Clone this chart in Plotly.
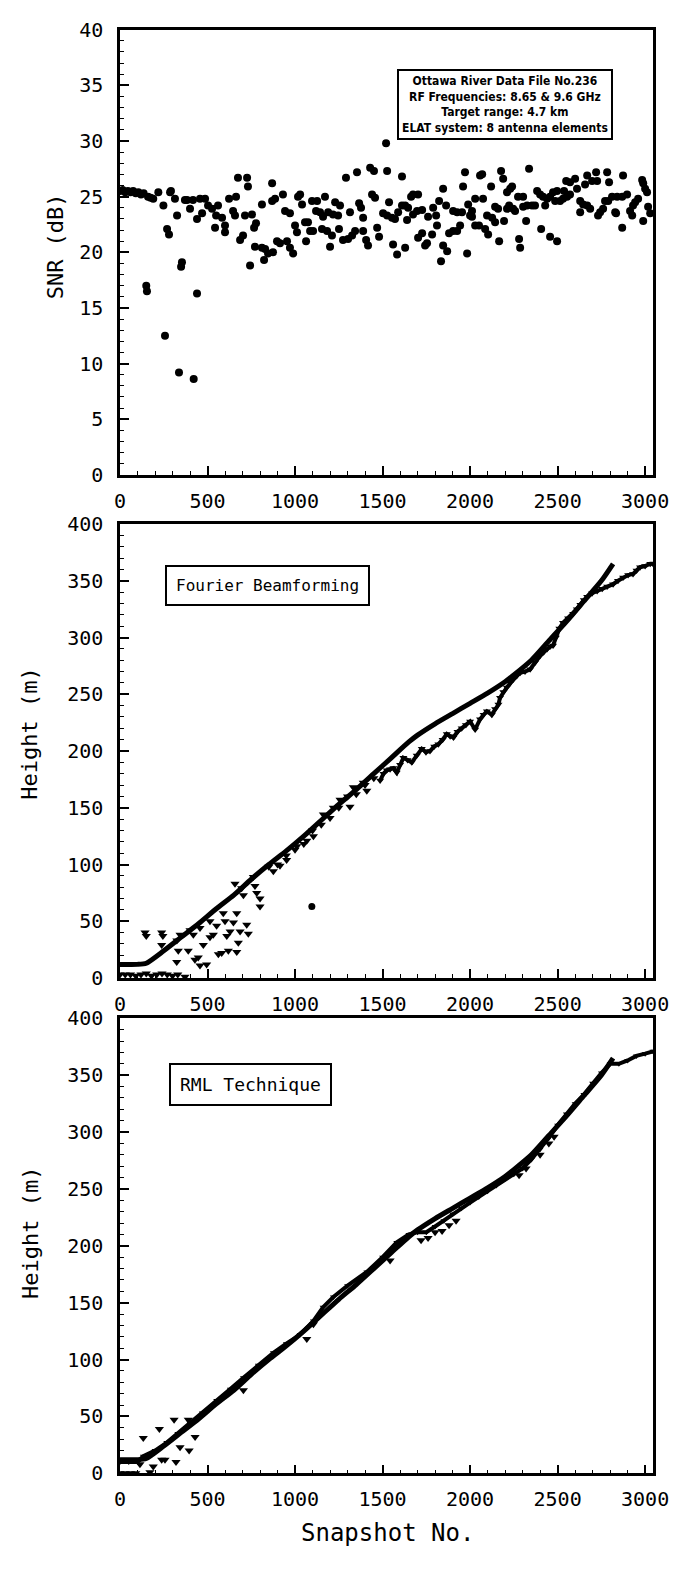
import plotly.graph_objects as go

# ---------------- data ----------------
snr_snap = [0,15,30,45,60,75,90,105,120,135,150,154,160,175,190,219,248,257,269,280,286,291,314,326,337,349,354,371,383,400,417,421,440,440,457,469,486,503,526,543,549,560,583,600,600,623,646,657,663,674,686,703,714,726,731,743,754,766,771,777,811,811,823,829,846,869,869,874,886,897,914,931,943,954,971,971,989,1000,1011,1017,1029,1040,1057,1063,1074,1086,1097,1103,1120,1126,1143,1154,1160,1171,1183,1189,1200,1211,1217,1229,1246,1251,1257,1274,1291,1303,1314,1326,1343,1354,1366,1377,1389,1389,1406,1417,1429,1440,1451,1457,1469,1480,1503,1520,1526,1526,1537,1554,1560,1571,1583,1589,1611,1611,1629,1629,1640,1646,1663,1674,1674,1697,1703,1703,1726,1726,1743,1754,1760,1783,1789,1806,1811,1823,1834,1846,1846,1863,1869,1880,1903,1903,1926,1926,1943,1954,1960,1971,1983,1989,2000,2011,2011,2029,2029,2051,2057,2069,2074,2086,2097,2103,2120,2126,2143,2143,2160,2166,2177,2189,2194,2211,2211,2223,2229,2240,2246,2257,2274,2280,2286,2303,2303,2320,2326,2337,2354,2371,2383,2400,2406,2417,2429,2440,2457,2457,2474,2486,2497,2497,2514,2531,2537,2549,2554,2571,2571,2600,2611,2629,2629,2646,2657,2669,2669,2686,2697,2720,2726,2731,2743,2760,2771,2783,2789,2794,2811,2829,2834,2840,2869,2869,2874,2897,2914,2926,2931,2943,2960,2983,2989,2989,3000,3011,3017,3029]
snr_db = [25.5,25.6,25.4,25.5,25.4,25.5,25.3,25.4,25.2,25.3,17.0,16.5,25.0,24.9,24.8,25.4,24.2,12.5,22.1,21.6,25.4,25.5,24.8,23.3,9.2,18.7,19.1,24.7,24.7,23.9,24.7,8.6,23.0,16.3,24.8,23.5,24.8,24.2,23.9,22.2,23.3,24.2,23.1,22.4,21.8,24.8,23.7,23.3,25.0,26.7,21.1,21.5,23.3,26.7,25.9,18.8,23.4,22.2,20.5,22.6,24.3,20.4,19.3,20.3,19.9,26.2,24.6,20.0,24.8,21.0,20.8,25.2,23.7,21.0,23.5,20.4,19.9,22.4,21.8,25.0,25.2,24.3,22.7,21.0,22.7,21.9,24.6,21.9,23.7,24.6,23.6,22.1,23.2,25.0,21.9,23.6,20.5,21.5,23.4,24.5,23.3,22.1,24.2,21.1,26.7,21.2,23.6,21.5,21.9,27.2,24.4,24.0,23.1,21.9,21.1,20.6,27.6,25.2,27.3,24.9,22.2,21.4,23.5,29.8,27.3,23.3,24.5,23.1,20.7,23.0,19.8,23.6,24.2,26.8,24.2,20.4,22.9,24.0,25.0,25.2,23.4,23.7,25.2,21.3,23.8,21.7,20.6,20.8,23.2,21.6,24.0,23.3,22.4,24.6,19.2,25.7,20.6,24.2,20.1,21.7,21.9,23.7,21.9,23.6,22.4,23.6,25.9,27.2,19.9,24.3,23.3,23.7,23.2,24.8,22.4,22.4,26.9,27.0,24.8,22.1,23.3,21.6,25.9,23.1,22.7,24.1,23.9,21.0,27.3,26.6,22.8,25.4,23.9,24.2,25.7,25.9,23.9,23.7,25.0,21.2,20.4,25.0,24.1,22.8,24.2,27.5,24.2,24.2,25.5,25.2,22.1,25.0,24.2,24.8,25.0,21.4,25.4,24.6,25.5,21.0,24.6,24.8,25.5,26.4,25.0,25.2,26.3,26.6,25.7,24.6,23.6,24.3,26.1,26.9,24.2,23.9,26.4,27.2,26.4,23.3,23.6,23.9,24.6,27.2,24.6,26.3,25.0,23.6,23.5,25.0,25.0,22.2,26.9,25.2,23.7,23.3,24.2,24.5,24.8,26.5,26.2,22.8,25.7,25.4,24.1,23.5]

true_snap = [0,100,150,250,350,450,550,650,750,850,950,1050,1150,1250,1350,1450,1550,1650,1700,1800,1900,2000,2100,2200,2250,2350,2450,2550,2650,2750,2817]
true_h = [12,12,13,24,36,48,61,73,87,100,112,125,139,153,166,180,194,208,214,224,233,242,251,261,267,280,297,314,332,350,365]

fb_scat_snap = [0,30,60,90,120,150,180,210,240,270,300,330,371,143,150,238,245,343,325,238,333,324,390,400,419,447,457,476,495,457,428,514,514,533,552,562,581,590,600,610,629,619,648,667,676,667,686,724,733,657,695,705,762,781,800,800,771,850,876,900,914,950,952,1000,1010,1050,1067,1100,1105,1150,1162,1200,1219,1250,1257,1300,1314,1333,1350,1390,1400,1410,1450]
fb_scat_h = [3,3,3,2,3,4,2,3,4,3,2,3,1,40,37,40,37,38,33,29,24,14,24,42,38,18,44,29,12,11,16,50,36,38,46,21,22,57,50,37,41,24,49,57,31,23,41,47,39,83,79,73,89,75,70,63,81,98,94,100,99,108,104,113,116,118,121,130,125,135,144,141,150,150,157,160,151,168,162,172,170,165,176]
fb_out_snap = [1096]
fb_out_h = [63]

fb_trk_snap = [1486,1505,1524,1543,1562,1581,1600,1619,1643,1667,1695,1724,1748,1771,1795,1819,1843,1867,1886,1905,1928,1952,1976,2000,2029,2057,2077,2096,2124,2143,2162,2171,2190,2210,2230,2246,2266,2286,2314,2343,2371,2400,2420,2440,2457,2474,2490,2510,2531,2560,2589,2610,2630,2650,2669,2697,2726,2755,2783,2817,2845,2874,2903,2931,2951,2971,3000,3029,3045]
fb_trk_h = [174,180,183,184,185,181,188,194,192,190,196,202,199,200,204,206,210,215,213,212,217,220,223,226,219,228,232,235,232,237,241,247,252,256,260,263,266,269,270,272,278,284,287,290,292,293,300,308,313,317,321,325,329,333,336,339,341,343,345,347,350,353,355,356,359,362,363,365,365]

rml_scat_snap = [0,30,60,90,114,133,171,190,225,238,257,309,320,343,390,395,429,705,1067,1105,1543,1720,1760,1800,1840,1880,1920,2280,2320,2400,2450,2480]
rml_scat_h = [0,0,0,0,8,31,1,6,39,12,12,47,10,23,47,20,32,73,118,131,187,205,207,212,213,218,222,262,268,280,290,296]

rml_trk_snap = [0,50,100,133,200,267,330,400,470,552,630,705,790,876,950,1029,1105,1160,1219,1300,1410,1500,1581,1650,1700,1750,1800,1850,1900,1950,2000,2050,2100,2150,2200,2250,2300,2350,2400,2450,2500,2550,2600,2650,2700,2750,2800,2850,2900,2950,3000,3045]
rml_trk_h = [10,10,10,15,20,27,35,44,53,64,74,84,95,106,114,122,134,146,155,165,177,190,203,210,212,212,217,222,228,233,238,243,248,253,259,263,268,276,285,295,306,316,325,333,343,352,360,360,363,367,369,371]

x_ticks = [0, 500, 1000, 1500, 2000, 2500, 3000]

# ---------------- figure ----------------
W, H = 676, 1569
L, R = 120, 23
def ydom(top_px, bot_px):
    return [1 - bot_px / H, 1 - top_px / H]

FONT = "DejaVu Sans Mono, Liberation Mono, monospace"
fig = go.Figure()

fig.add_trace(go.Scatter(x=snr_snap, y=snr_db, mode="markers", xaxis="x", yaxis="y",
                         marker=dict(symbol="circle", size=8, color="black"), showlegend=False))

# middle panel
fig.add_trace(go.Scatter(x=true_snap, y=true_h, mode="lines", xaxis="x2", yaxis="y2",
                         line=dict(color="black", width=5, shape="spline", smoothing=0.6), showlegend=False))
fig.add_trace(go.Scatter(x=fb_scat_snap, y=fb_scat_h, mode="markers", xaxis="x2", yaxis="y2",
                         marker=dict(symbol="triangle-down", size=8, color="black"), showlegend=False))
fig.add_trace(go.Scatter(x=fb_out_snap, y=fb_out_h, mode="markers", xaxis="x2", yaxis="y2",
                         marker=dict(symbol="circle", size=7, color="black"), showlegend=False))
fig.add_trace(go.Scatter(x=fb_trk_snap, y=fb_trk_h, mode="lines+markers", xaxis="x2", yaxis="y2",
                         line=dict(color="black", width=4),
                         marker=dict(symbol="triangle-down", size=7, color="black"), showlegend=False))

# bottom panel
fig.add_trace(go.Scatter(x=true_snap, y=true_h, mode="lines", xaxis="x3", yaxis="y3",
                         line=dict(color="black", width=5, shape="spline", smoothing=0.6), showlegend=False))
fig.add_trace(go.Scatter(x=rml_trk_snap, y=rml_trk_h, mode="lines+markers", xaxis="x3", yaxis="y3",
                         line=dict(color="black", width=4),
                         marker=dict(symbol="triangle-down", size=6, color="black"), showlegend=False))
fig.add_trace(go.Scatter(x=rml_scat_snap, y=rml_scat_h, mode="markers", xaxis="x3", yaxis="y3",
                         marker=dict(symbol="triangle-down", size=8, color="black"), showlegend=False))

def xax(anchor):
    return dict(domain=[0, 1], anchor=anchor, range=[0, 3045], tickvals=x_ticks,
                ticks="inside", ticklen=9, tickwidth=2, tickcolor="black",
                minor=dict(ticks="inside", ticklen=4, tickwidth=1, dtick=100, tickcolor="black"),
                showline=True, linewidth=2.5, linecolor="black", mirror=True,
                showgrid=False, zeroline=False,
                tickfont=dict(family=FONT, size=20, color="black"), ticklabelstandoff=6)

def yax(anchor, dom, rng, dtick, mdt):
    return dict(domain=dom, anchor=anchor, range=rng, dtick=dtick, tick0=0,
                ticks="inside", ticklen=9, tickwidth=2, tickcolor="black",
                minor=dict(ticks="inside", ticklen=4, tickwidth=1, dtick=mdt, tickcolor="black"),
                showline=True, linewidth=2.5, linecolor="black", mirror=True,
                showgrid=False, zeroline=False,
                tickfont=dict(family=FONT, size=20, color="black"), ticklabelstandoff=10)

fig.update_layout(
    width=W, height=H,
    margin=dict(l=L, r=R, t=0, b=0),
    paper_bgcolor="white", plot_bgcolor="white",
    xaxis=xax("y"), yaxis=yax("x", ydom(18, 470), [0, 40], 5, 1),
    xaxis2=xax("y2"), yaxis2=yax("x2", ydom(520, 981), [0, 400], 50, 10),
    xaxis3=xax("y3"), yaxis3=yax("x3", ydom(1022, 1484), [0, 400], 50, 10),
)

def px2paper(px, py):
    return (px - L) / (W - L - R), 1 - py / H

anns = []
ax_font = dict(family=FONT, size=22, color="black")
x, y = px2paper(55, 238)
anns.append(dict(text="SNR (dB)", x=x, y=y, xref="paper", yref="paper", showarrow=False,
                 textangle=-90, font=ax_font, xanchor="center", yanchor="middle"))
for cy in (733, 1240):
    x, y = px2paper(30, cy)
    anns.append(dict(text="Height (m)", x=x, y=y, xref="paper", yref="paper", showarrow=False,
                     textangle=-90, font=ax_font, xanchor="center", yanchor="middle"))
x, y = px2paper(387, 1545)
anns.append(dict(text="Snapshot No.", x=x, y=y, xref="paper", yref="paper", showarrow=False,
                 font=dict(family=FONT, size=24, color="black"), xanchor="center", yanchor="middle"))

anns.append(dict(text="<b>Ottawa River Data File No.236<br>RF Frequencies: 8.65 &amp; 9.6 GHz<br>Target range: 4.7 km<br>ELAT system: 8 antenna elements</b>",
                 x=(505 - L) / 533, y=(470 - 94) / 452, xref="x domain", yref="y domain",
                 showarrow=False, align="center", bordercolor="black", borderwidth=2, borderpad=3,
                 bgcolor="white", xanchor="center", yanchor="middle",
                 font=dict(family="Liberation Sans Narrow, DejaVu Sans Condensed, Arial Narrow, sans-serif", size=12, color="black")))
anns.append(dict(text="Fourier Beamforming", x=(267 - L) / 533, y=(981 - 582) / 461,
                 xref="x2 domain", yref="y2 domain", showarrow=False, bordercolor="black",
                 borderwidth=2, borderpad=9, bgcolor="white", xanchor="center", yanchor="middle",
                 font=dict(family=FONT, size=16, color="black")))
anns.append(dict(text="RML Technique", x=(250 - L) / 533, y=(1484 - 1089) / 462,
                 xref="x3 domain", yref="y3 domain", showarrow=False, bordercolor="black",
                 borderwidth=2, borderpad=9, bgcolor="white", xanchor="center", yanchor="middle",
                 font=dict(family=FONT, size=18, color="black")))
fig.update_layout(annotations=anns)

fig.write_html("out.html")
